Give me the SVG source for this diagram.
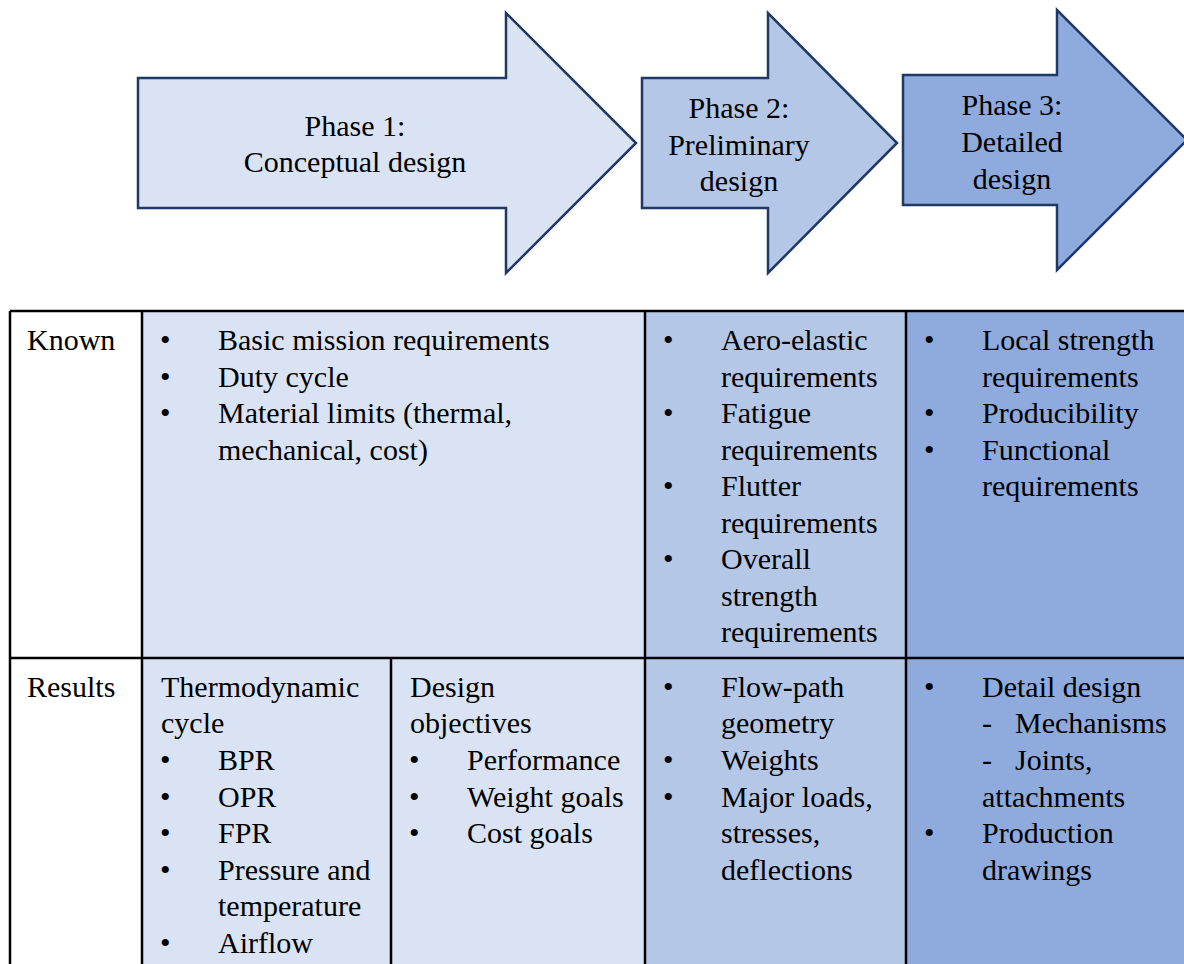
<svg xmlns="http://www.w3.org/2000/svg" width="1184" height="964" viewBox="0 0 1184 964">
<style>
.t{font-size:30px;fill:#000}
.c{font-size:30px;fill:#000;text-anchor:middle}
.arrow{stroke:#1F3864;stroke-width:2.5;stroke-linejoin:miter}
.p1{fill:#DAE3F3}.p2{fill:#B4C7E7}.p3{fill:#8FAADC}
.grid{stroke:#000;stroke-width:2.5;fill:none}
</style>
<rect width="1184" height="964" fill="#fff"/>
<g id="phase1">
<polygon class="arrow p1" points="138,78 506,78 506,13 636,143 506,273 506,208 138,208"/>
<text class="c" font-family="Liberation Serif" x="355" y="136">Phase 1:</text>
<text class="c" font-family="Liberation Serif" x="355" y="172">Conceptual design</text>
</g>
<g id="phase2">
<polygon class="arrow p2" points="642,78 768,78 768,13 897,143 768,273 768,208 642,208"/>
<text class="c" font-family="Liberation Serif" x="739" y="118">Phase 2:</text>
<text class="c" font-family="Liberation Serif" x="739" y="155">Preliminary</text>
<text class="c" font-family="Liberation Serif" x="739" y="191">design</text>
</g>
<g id="phase3">
<polygon class="arrow p3" points="903,75 1057,75 1057,10 1187,140 1057,270 1057,205 903,205"/>
<text class="c" font-family="Liberation Serif" x="1012" y="115">Phase 3:</text>
<text class="c" font-family="Liberation Serif" x="1012" y="152">Detailed</text>
<text class="c" font-family="Liberation Serif" x="1012" y="189">design</text>
</g>
<g id="table">
<rect x="10" y="311" width="132" height="660" fill="#fff"/>
<rect x="142" y="311" width="503" height="660" class="p1"/>
<rect x="645" y="311" width="261" height="660" class="p2"/>
<rect x="906" y="311" width="290" height="660" class="p3"/>
<path class="grid" d="M10,311 H1190 M10,658 H1190 M10,311 V970 M142,311 V970 M645,311 V970 M906,311 V970 M391,658 V970"/>
</g>
<g id="known">
<text class="t" font-family="Liberation Serif" x="27" y="350">Known</text>
<text class="t" font-family="Liberation Serif" x="160" y="350">•</text><text class="t" font-family="Liberation Serif" x="218" y="350">Basic mission requirements</text>
<text class="t" font-family="Liberation Serif" x="160" y="387">•</text><text class="t" font-family="Liberation Serif" x="218" y="387">Duty cycle</text>
<text class="t" font-family="Liberation Serif" x="160" y="423">•</text><text class="t" font-family="Liberation Serif" x="218" y="423">Material limits (thermal,</text>
<text class="t" font-family="Liberation Serif" x="218" y="460">mechanical, cost)</text>
<text class="t" font-family="Liberation Serif" x="663" y="350">•</text><text class="t" font-family="Liberation Serif" x="721" y="350">Aero-elastic</text>
<text class="t" font-family="Liberation Serif" x="721" y="387">requirements</text>
<text class="t" font-family="Liberation Serif" x="663" y="423">•</text><text class="t" font-family="Liberation Serif" x="721" y="423">Fatigue</text>
<text class="t" font-family="Liberation Serif" x="721" y="460">requirements</text>
<text class="t" font-family="Liberation Serif" x="663" y="496">•</text><text class="t" font-family="Liberation Serif" x="721" y="496">Flutter</text>
<text class="t" font-family="Liberation Serif" x="721" y="533">requirements</text>
<text class="t" font-family="Liberation Serif" x="663" y="569">•</text><text class="t" font-family="Liberation Serif" x="721" y="569">Overall</text>
<text class="t" font-family="Liberation Serif" x="721" y="606">strength</text>
<text class="t" font-family="Liberation Serif" x="721" y="642">requirements</text>
<text class="t" font-family="Liberation Serif" x="924" y="350">•</text><text class="t" font-family="Liberation Serif" x="982" y="350">Local strength</text>
<text class="t" font-family="Liberation Serif" x="982" y="387">requirements</text>
<text class="t" font-family="Liberation Serif" x="924" y="423">•</text><text class="t" font-family="Liberation Serif" x="982" y="423">Producibility</text>
<text class="t" font-family="Liberation Serif" x="924" y="460">•</text><text class="t" font-family="Liberation Serif" x="982" y="460">Functional</text>
<text class="t" font-family="Liberation Serif" x="982" y="496">requirements</text>
</g>
<g id="results">
<text class="t" font-family="Liberation Serif" x="27" y="697">Results</text>
<text class="t" font-family="Liberation Serif" x="161" y="697">Thermodynamic</text>
<text class="t" font-family="Liberation Serif" x="161" y="733">cycle</text>
<text class="t" font-family="Liberation Serif" x="160" y="770">•</text><text class="t" font-family="Liberation Serif" x="218" y="770">BPR</text>
<text class="t" font-family="Liberation Serif" x="160" y="807">•</text><text class="t" font-family="Liberation Serif" x="218" y="807">OPR</text>
<text class="t" font-family="Liberation Serif" x="160" y="843">•</text><text class="t" font-family="Liberation Serif" x="218" y="843">FPR</text>
<text class="t" font-family="Liberation Serif" x="160" y="880">•</text><text class="t" font-family="Liberation Serif" x="218" y="880">Pressure and</text>
<text class="t" font-family="Liberation Serif" x="218" y="916">temperature</text>
<text class="t" font-family="Liberation Serif" x="160" y="953">•</text><text class="t" font-family="Liberation Serif" x="218" y="953">Airflow</text>
<text class="t" font-family="Liberation Serif" x="410" y="697">Design</text>
<text class="t" font-family="Liberation Serif" x="410" y="733">objectives</text>
<text class="t" font-family="Liberation Serif" x="409" y="770">•</text><text class="t" font-family="Liberation Serif" x="467" y="770">Performance</text>
<text class="t" font-family="Liberation Serif" x="409" y="807">•</text><text class="t" font-family="Liberation Serif" x="467" y="807">Weight goals</text>
<text class="t" font-family="Liberation Serif" x="409" y="843">•</text><text class="t" font-family="Liberation Serif" x="467" y="843">Cost goals</text>
<text class="t" font-family="Liberation Serif" x="663" y="697">•</text><text class="t" font-family="Liberation Serif" x="721" y="697">Flow-path</text>
<text class="t" font-family="Liberation Serif" x="721" y="733">geometry</text>
<text class="t" font-family="Liberation Serif" x="663" y="770">•</text><text class="t" font-family="Liberation Serif" x="721" y="770">Weights</text>
<text class="t" font-family="Liberation Serif" x="663" y="807">•</text><text class="t" font-family="Liberation Serif" x="721" y="807">Major loads,</text>
<text class="t" font-family="Liberation Serif" x="721" y="843">stresses,</text>
<text class="t" font-family="Liberation Serif" x="721" y="880">deflections</text>
<text class="t" font-family="Liberation Serif" x="924" y="697">•</text><text class="t" font-family="Liberation Serif" x="982" y="697">Detail design</text>
<text class="t" font-family="Liberation Serif" x="982" y="733">-</text><text class="t" font-family="Liberation Serif" x="1015" y="733">Mechanisms</text>
<text class="t" font-family="Liberation Serif" x="982" y="770">-</text><text class="t" font-family="Liberation Serif" x="1015" y="770">Joints,</text>
<text class="t" font-family="Liberation Serif" x="982" y="807">attachments</text>
<text class="t" font-family="Liberation Serif" x="924" y="843">•</text><text class="t" font-family="Liberation Serif" x="982" y="843">Production</text>
<text class="t" font-family="Liberation Serif" x="982" y="880">drawings</text>
</g>
</svg>
